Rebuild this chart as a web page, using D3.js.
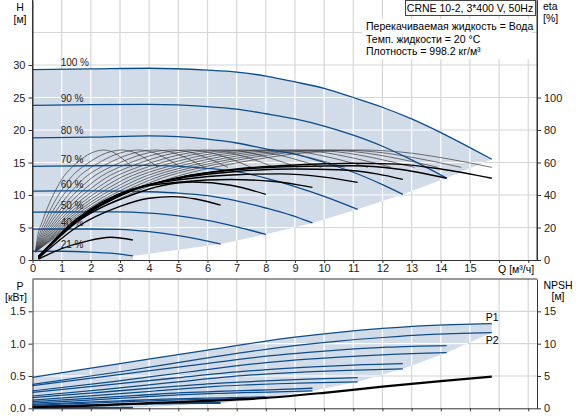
<!DOCTYPE html>
<html>
<head>
<meta charset="utf-8">
<script src="https://cdn.jsdelivr.net/npm/d3@7"></script>
<style>
body{margin:0;background:#fff}
svg{display:block}
</style>
</head>
<body>
<svg id="chart" width="576" height="417"></svg>
<script>
// ---- data ----
var speedLabels = ["100 %", "90 %", "80 %", "70 %", "60 %", "50 %", "40 %", "21 %"]

// head curves, H [m] vs Q [m3/h]
var headQ = [
    [0, 2, 4, 6, 7, 8, 9, 10, 11, 12, 13, 14, 15, 15.75],
    [0, 2, 4, 6, 7, 8, 9, 10, 11, 12, 13, 14.2],
    [0, 2, 4, 6, 7, 8, 9, 10, 11, 12, 12.7],
    [0, 2, 4, 6, 7, 8, 9, 10, 11.15],
    [0, 2, 4, 5, 6, 7, 8, 8.86, 9.6],
    [0, 2, 3, 4, 5, 6, 7, 8],
    [0, 1, 2, 3, 4, 5, 6, 6.45],
    [0, 1, 2, 3, 3.44]
]
var headH = [
    [29.3, 29.4, 29.5, 29.2, 28.9, 28.3, 27.4, 26.4, 25.0, 23.5, 21.7, 19.6, 17.3, 15.5],
    [23.8, 23.9, 23.95, 23.6, 23.2, 22.5, 21.7, 20.6, 19.2, 17.5, 15.4, 12.6],
    [18.8, 18.9, 19.1, 18.6, 18.0, 17.1, 16.3, 15.0, 13.5, 11.6, 10.1],
    [14.4, 14.5, 14.55, 14.1, 13.6, 12.6, 11.3, 9.8, 7.8],
    [10.6, 10.65, 10.5, 10.3, 9.9, 9.1, 8.0, 6.9, 5.7],
    [7.35, 7.4, 7.4, 7.2, 6.8, 6.1, 5.1, 3.95],
    [4.75, 4.77, 4.77, 4.7, 4.35, 3.75, 2.9, 2.46],
    [1.35, 1.35, 1.2, 0.9, 0.62]
]

// total efficiency (thick black), eta [%]
var etaQ = [
    [0.2, 1.5, 3.4, 5.1, 7, 9, 11, 12.5, 14, 15.75],
    [0.2, 1.5, 3.4, 5.1, 7, 9, 11, 12.5, 14.2],
    [0.2, 1.5, 3.4, 5.1, 7, 9, 10.5, 11.8, 12.7],
    [0.2, 1.5, 3.4, 5.1, 7, 8.5, 10, 11.15],
    [0.2, 1.5, 3.4, 5.1, 6.8, 8.2, 9.6],
    [0.2, 1.5, 3.4, 4.5, 5.5, 6.8, 8],
    [0.2, 1.5, 3, 4, 4.8, 5.6, 6.45],
    [0.2, 1, 1.8, 2.68, 3.44]
]
var etaV = [
    [2, 23.5, 42.5, 51, 56, 58.5, 59.5, 59, 56, 50.3],
    [2, 24, 43, 51, 55.5, 57.5, 58, 56, 50.3],
    [2, 24, 43, 50.5, 54.5, 56, 55.5, 53, 49.6],
    [2, 24.5, 43.5, 49.5, 52.5, 53, 51, 47.8],
    [2, 25, 43.5, 48, 49.5, 48.5, 44.7],
    [1.5, 23, 40, 46, 48, 46, 40.4],
    [1, 20, 33, 38, 39, 37.5, 33.8],
    [0.5, 7, 11.3, 14, 12.3]
]

// pump efficiency family (thin grey): shape over Q/Qend, and the end flow of each curve
var thinShapeQ = [0.05, 0.1, 0.17, 0.25, 0.32, 0.37, 0.44, 0.5, 0.55, 0.63, 0.71, 0.8, 0.9, 1]
var thinShapeV = [14, 24, 35, 45, 52, 55.5, 59.5, 62.5, 64.6, 66.8, 67.7, 66.5, 62.5, 57]
var thinEnds = [3.42, 4.3, 5.1, 5.9, 6.7, 7.5, 8.3, 9.1, 9.9, 10.7, 11.5, 12.3, 13.1, 13.9, 14.7, 15.75]
var thinStart = [0.1, 5]

// power P1 / P2 [kW]
var powQ = [
    [0, 3, 6, 9, 10.5, 12, 13.5, 15.75],
    [0, 2.7, 5.4, 8.1, 9.45, 10.8, 12.15, 14.2],
    [0, 2.4, 4.8, 7.2, 8.4, 9.6, 10.8, 12.7],
    [0, 2.1, 4.2, 6.3, 7.35, 8.4, 9.45, 11.15],
    [0, 1.8, 3.6, 5.4, 6.3, 7.2, 8.1, 9.6],
    [0, 1.5, 3, 4.5, 5.25, 6, 6.75, 8],
    [0, 1.2, 2.4, 3.6, 4.2, 4.8, 5.4, 6.45],
    [0, 1.7, 3.44]
]
var powP1 = [
    [0.48, 0.69, 0.9, 1.1, 1.175, 1.235, 1.28, 1.31],
    [0.35, 0.505, 0.66, 0.81, 0.865, 0.91, 0.945, 0.97],
    [0.245, 0.355, 0.465, 0.57, 0.61, 0.64, 0.665, 0.69],
    [0.165, 0.24, 0.315, 0.385, 0.41, 0.432, 0.45, 0.475],
    [0.104, 0.151, 0.199, 0.245, 0.26, 0.274, 0.285, 0.31],
    [0.06, 0.088, 0.115, 0.142, 0.15, 0.158, 0.164, 0.175],
    [0.031, 0.045, 0.059, 0.072, 0.077, 0.081, 0.084, 0.087],
    [0.006, 0.009, 0.012]
]
var powP2 = [
    [0.37, 0.565, 0.78, 0.97, 1.04, 1.095, 1.14, 1.17],
    [0.27, 0.41, 0.565, 0.71, 0.76, 0.8, 0.83, 0.86],
    [0.19, 0.29, 0.4, 0.505, 0.54, 0.567, 0.588, 0.61],
    [0.127, 0.196, 0.268, 0.34, 0.362, 0.38, 0.394, 0.41],
    [0.08, 0.123, 0.17, 0.215, 0.229, 0.241, 0.25, 0.27],
    [0.046, 0.071, 0.098, 0.124, 0.132, 0.139, 0.145, 0.155],
    [0.024, 0.036, 0.05, 0.064, 0.068, 0.072, 0.074, 0.077],
    [0.004, 0.007, 0.01]
]

// NPSH [m]
var npshQ = [0, 2, 4, 6, 8, 10, 12, 14, 15.75]
var npshV = [0.2, 0.4, 0.8, 1.15, 1.6, 2.4, 3.35, 4.2, 4.9]

// tick values
var qTicks = [0, 1, 2, 3, 4, 5, 6, 7, 8, 9, 10, 11, 12, 13, 14, 15, 16, 17]
var hTicks = [0, 5, 10, 15, 20, 25, 30]
var etaTicks = [0, 20, 40, 60, 80, 100]
var pTicks = [0, 0.5, 1.0, 1.5]
var npshTicks = [0, 5, 10, 15]

var infoLines = ["Перекачиваемая жидкость = Вода", "Темп. жидкости = 20 °C", "Плотность = 998.2 кг/м³"]

// ---- drawing ----
var font = "'Liberation Sans', Arial, sans-serif"
var blue = "#0c4c8c"
var fillCol = "#d2dce8"
var gridCol = "#d6d6d6"
var axisCol = "#333"

var svg = d3.select("#chart").style("font-family", font)

var x = d3.scaleLinear().domain([0, 17.3]).range([32.5, 537])
var yH = d3.scaleLinear().domain([0, 40]).range([260, 0])
var yEta = d3.scaleLinear().domain([0, 160]).range([260, 0])
var yP = d3.scaleLinear().domain([0, 2]).range([408.3, 279])
var yN = d3.scaleLinear().domain([0, 20]).range([408.3, 279])

function pairs(qs, vs){
    return qs.map(function(q, i){ return [q, vs[i]] })
}
function last(a){ return a[a.length-1] }

var lineH = d3.line().x(function(d){ return x(d[0]) }).y(function(d){ return yH(d[1]) }).curve(d3.curveMonotoneX)
var lineEta = d3.line().x(function(d){ return x(d[0]) }).y(function(d){ return yEta(d[1]) }).curve(d3.curveMonotoneX)
var lineP = d3.line().x(function(d){ return x(d[0]) }).y(function(d){ return yP(d[1]) }).curve(d3.curveMonotoneX)
var lineN = d3.line().x(function(d){ return x(d[0]) }).y(function(d){ return yN(d[1]) }).curve(d3.curveMonotoneX)

// fill outlines
var topRest = []
for (var i = 1; i < headQ.length; i++) topRest.push([last(headQ[i]), last(headH[i])])
topRest.push([last(headQ[7]), 0])
topRest.push([0, 0])
var topFillD = lineH(pairs(headQ[0], headH[0])) +
    topRest.map(function(d){ return "L" + x(d[0]) + "," + yH(d[1]) }).join("") + "Z"

var botRest = []
for (var i = 0; i < powQ.length; i++) botRest.push([last(powQ[i]), last(powP2[i])])
botRest.push([0, 0])
var botFillD = lineP(pairs(powQ[0], powP1[0])) +
    botRest.map(function(d){ return "L" + x(d[0]) + "," + yP(d[1]) }).join("") + "Z"

var defs = svg.append("defs")
defs.append("clipPath").attr("id", "clipTop").append("path").attr("d", topFillD)
defs.append("clipPath").attr("id", "clipBot").append("path").attr("d", botFillD)
defs.append("clipPath").attr("id", "plotTop").append("rect")
    .attr("x", 32.5).attr("y", 0).attr("width", 537-32.5).attr("height", 260)

function drawGrid(g, stroke, yTop, yBot, hVals, yScale){
    g.selectAll(".vg").data(qTicks.slice(1)).enter().append("line")
        .attr("x1", function(d){ return x(d) }).attr("x2", function(d){ return x(d) })
        .attr("y1", yTop).attr("y2", yBot)
        .attr("stroke", stroke).attr("stroke-width", 1.2)
    g.selectAll(".hg").data(hVals).enter().append("line")
        .attr("x1", x(0)).attr("x2", 537)
        .attr("y1", function(d){ return yScale(d) }).attr("y2", function(d){ return yScale(d) })
        .attr("stroke", stroke).attr("stroke-width", 1.2)
}

// TOP PANEL
drawGrid(svg.append("g"), gridCol, 0, 260, [5, 10, 15, 20, 25, 30, 35], yH)
svg.append("path").attr("d", topFillD).attr("fill", fillCol)
drawGrid(svg.append("g").attr("clip-path", "url(#clipTop)"), "#fff", 0, 260, [5, 10, 15, 20, 25, 30, 35], yH)

// info block background
svg.append("rect").attr("x", 362).attr("y", 19).attr("width", 170).attr("height", 40).attr("fill", "#fff")

var topCurves = svg.append("g").attr("clip-path", "url(#plotTop)")

// thin pump efficiency curves
thinEnds.forEach(function(e){
    var p = [thinStart].concat(thinShapeQ.map(function(f, k){ return [f*e, thinShapeV[k]] }))
    topCurves.append("path").attr("d", lineEta(p))
        .attr("fill", "none").attr("stroke", "#3a3a3a").attr("stroke-width", 0.7)
})

// speed curves
headQ.forEach(function(qs, i){
    topCurves.append("path").attr("d", lineH(pairs(qs, headH[i])))
        .attr("fill", "none").attr("stroke", blue).attr("stroke-width", 1.3)
})

// total efficiency curves
etaQ.forEach(function(qs, i){
    topCurves.append("path").attr("d", lineEta(pairs(qs, etaV[i])))
        .attr("fill", "none").attr("stroke", "#000").attr("stroke-width", 1.4)
})

// speed labels
svg.selectAll(".spd").data(speedLabels).enter().append("text")
    .text(function(d){ return d })
    .attr("x", x(1) - 1)
    .attr("y", function(d, i){ return yH(headH[i][1]) - 3 })
    .attr("font-size", 10)
    .attr("fill", "#222")

// axes
function styleAxis(g, fs){
    g.attr("font-family", font).attr("font-size", fs)
    g.selectAll("path").attr("stroke", axisCol)
    g.selectAll("line").attr("stroke", axisCol)
    g.selectAll("text").attr("fill", "#222")
}

svg.append("g").attr("transform", "translate(0,260)")
    .call(d3.axisBottom(x).tickValues(qTicks).tickSize(3).tickSizeOuter(0)
        .tickFormat(function(d){ return d <= 15 ? d : "" }))
    .call(styleAxis, 11)
    .selectAll("text").attr("dy", "0.75em").attr("y", 4)

svg.append("g").attr("transform", "translate(32.5,0)")
    .call(d3.axisLeft(yH).tickValues(hTicks).tickSize(4).tickSizeOuter(0))
    .call(styleAxis, 11)
svg.append("line").attr("x1", 32.5).attr("x2", 32.5).attr("y1", 0).attr("y2", 260).attr("stroke", axisCol)

svg.append("g").attr("transform", "translate(537,0)")
    .call(d3.axisRight(yEta).tickValues(etaTicks).tickSize(4).tickSizeOuter(0))
    .call(styleAxis, 11)
svg.append("line").attr("x1", 537).attr("x2", 537).attr("y1", 0).attr("y2", 260).attr("stroke", axisCol)

// titles top
svg.append("text").text("H").attr("x", 20).attr("y", 11).attr("text-anchor", "middle").attr("font-size", 10.5)
svg.append("text").text("[м]").attr("x", 20).attr("y", 23).attr("text-anchor", "middle").attr("font-size", 10.5)
svg.append("text").text("eta").attr("x", 543).attr("y", 10).attr("font-size", 10.5)
svg.append("text").text("[%]").attr("x", 543).attr("y", 22).attr("font-size", 10.5)
svg.append("text").text("Q [м³/ч]").attr("x", x(16) - 1).attr("y", 273).attr("font-size", 10.5)

svg.append("rect").attr("x", 405.5).attr("y", 0.5).attr("width", 130).attr("height", 15)
    .attr("fill", "#fff").attr("stroke", "#444")
svg.append("text").text("CRNE 10-2, 3*400 V, 50Hz").attr("x", 470).attr("y", 11.5)
    .attr("text-anchor", "middle").attr("font-size", 10.5)
svg.selectAll(".info").data(infoLines).enter().append("text")
    .text(function(d){ return d })
    .attr("x", 366).attr("y", function(d, i){ return 30 + i*12.5 })
    .attr("font-size", 10.5)

// BOTTOM PANEL
drawGrid(svg.append("g"), gridCol, 279, 408.3, [0.5, 1.0, 1.5], yP)
svg.append("path").attr("d", botFillD).attr("fill", fillCol)
drawGrid(svg.append("g").attr("clip-path", "url(#clipBot)"), "#fff", 279, 408.3, [0.5, 1.0, 1.5], yP)

powQ.forEach(function(qs, i){
    svg.append("path").attr("d", lineP(pairs(qs, powP2[i])))
        .attr("fill", "none").attr("stroke", blue).attr("stroke-width", 1.2)
    svg.append("path").attr("d", lineP(pairs(qs, powP1[i])))
        .attr("fill", "none").attr("stroke", blue).attr("stroke-width", 1.3)
})

svg.append("path").attr("d", lineN(pairs(npshQ, npshV)))
    .attr("fill", "none").attr("stroke", "#000").attr("stroke-width", 2.2)

svg.append("text").text("P1").attr("x", x(last(powQ[0])) - 6).attr("y", yP(last(powP1[0])) - 3).attr("font-size", 10.5)
svg.append("text").text("P2").attr("x", x(last(powQ[0])) - 6).attr("y", yP(last(powP2[0])) + 11).attr("font-size", 10.5)

svg.append("g").attr("transform", "translate(0,408.3)")
    .call(d3.axisBottom(x).tickValues(qTicks).tickSize(3).tickSizeOuter(0).tickFormat(""))
    .call(styleAxis, 11)
svg.append("line").attr("x1", 32.5).attr("x2", 537).attr("y1", 279).attr("y2", 279).attr("stroke", axisCol)

svg.append("g").attr("transform", "translate(32.5,0)")
    .call(d3.axisLeft(yP).tickValues(pTicks).tickSize(4).tickSizeOuter(0).tickFormat(d3.format(".1f")))
    .call(styleAxis, 11)
svg.append("g").attr("transform", "translate(537,0)")
    .call(d3.axisRight(yN).tickValues(npshTicks).tickSize(4).tickSizeOuter(0))
    .call(styleAxis, 11)

svg.append("text").text("P").attr("x", 20).attr("y", 290).attr("text-anchor", "middle").attr("font-size", 10.5)
svg.append("text").text("[кВт]").attr("x", 16).attr("y", 301).attr("text-anchor", "middle").attr("font-size", 10.5)
svg.append("text").text("NPSH").attr("x", 558).attr("y", 289).attr("text-anchor", "middle").attr("font-size", 10.5)
svg.append("text").text("[м]").attr("x", 558).attr("y", 300).attr("text-anchor", "middle").attr("font-size", 10.5)
</script>
</body>
</html>
